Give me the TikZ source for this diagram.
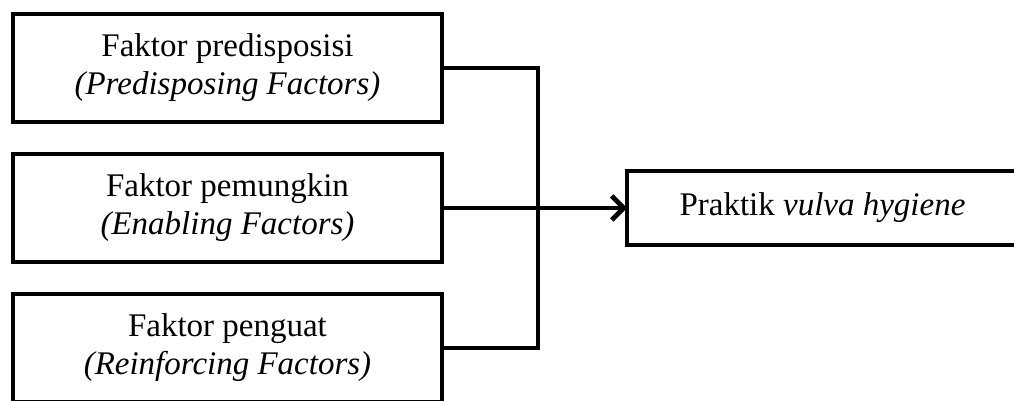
\documentclass[tikz,border=0pt]{standalone}
\usepackage{fontspec}
\setmainfont{Liberation Serif}
\usetikzlibrary{positioning,arrows.meta}

\begin{document}
\begin{tikzpicture}[x=0.5pt,y=-0.5pt,node distance=16pt,
        >={Straight Barb[length=6pt,width=12pt]},
        factor/.style={draw,line width=2.3pt,outer sep=0pt,minimum width=214.5pt,
                minimum height=54pt,align=center,font=\fontsize{16.5}{19}\selectfont},
        link/.style={line width=2.3pt}]

        \useasboundingbox (0,0) rectangle (1014,401);
        \clip (0,0) rectangle (1014,401);

        \node[factor]  (pre) at (227.5,68)  {Faktor predisposisi\\\textit{(Predisposing Factors)}};
        \node[factor]  (ena) [below=of pre] {Faktor pemungkin\\\textit{(Enabling Factors)}};
        \node[factor]  (rei) [below=of ena] {Faktor penguat\\\textit{(Reinforcing Factors)}};
        \node[factor,minimum width=195.5pt,minimum height=37pt]
                       (act) [right=92.5pt of ena] {Praktik \textit{vulva hygiene}};

        \coordinate[right=48pt of pre.east] (jtop);

        \draw[link] (pre.east) -- (jtop) |- (rei.east);
        \draw[link,->] (ena.east) -- (act.west);
      \end{tikzpicture}
\end{document}
